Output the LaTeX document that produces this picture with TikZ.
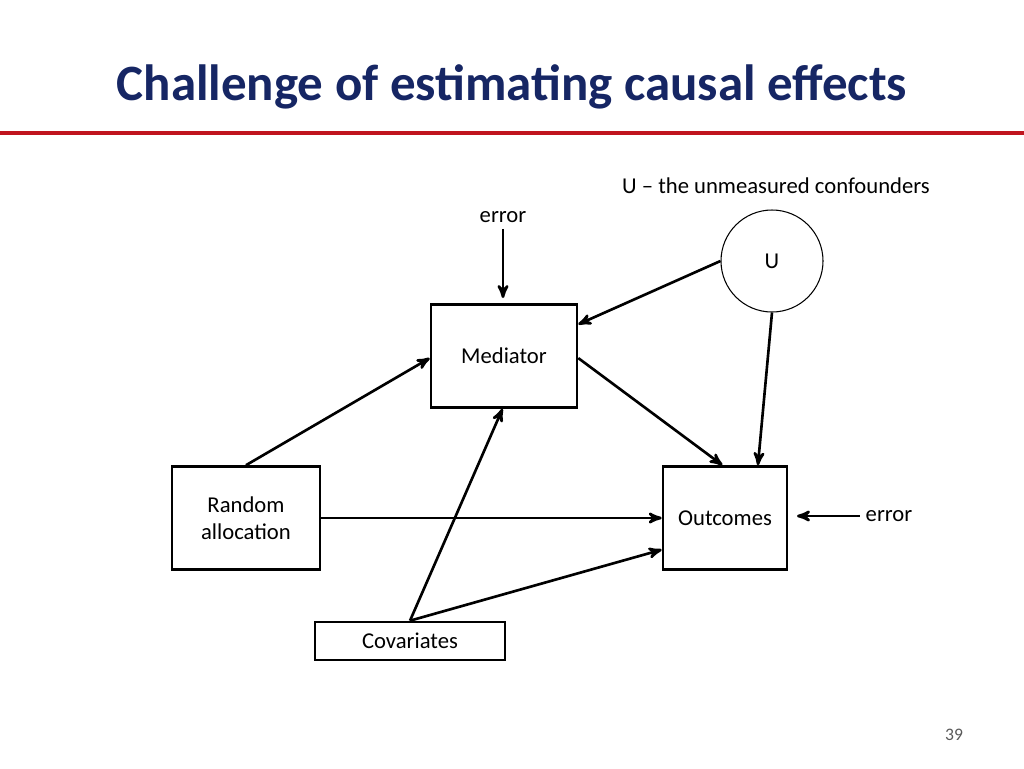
\documentclass[tikz,border=0pt]{standalone}
\usepackage{fontspec}
\setmainfont{Carlito}
\usetikzlibrary{calc}
\usetikzlibrary{arrows}
\definecolor{titleblue}{RGB}{22,38,100}
\definecolor{rulered}{RGB}{192,20,30}
\tikzset{box/.style={draw, line width=1.5pt, align=center, font=\fontsize{12.9}{15.5}\selectfont},
  arr/.style={line width=1.5pt, ->, >=stealth'},
  lbl/.style={font=\fontsize{12.9}{15.5}\selectfont}}
\begin{document}
\begin{tikzpicture}[x=0.02cm, y=-0.02cm]
\useasboundingbox (0,0) rectangle (1024,768);
\node[font=\bfseries\fontsize{29}{34}\selectfont, text=titleblue] (title) at (512,87) {Challenge of estimating causal effects};
\draw[rulered, line width=1.8pt] (0,133) -- (1024,133);
\node[box, minimum width=146*0.02cm, minimum height=103*0.02cm] (med) at (504,356) {Mediator};
\node[box, minimum width=148*0.02cm, minimum height=103*0.02cm] (rand) at (246,518) {Random\\allocation};
\node[box, minimum width=124*0.02cm, minimum height=103*0.02cm] (out) at (725,518) {Outcomes};
\node[box, minimum width=190*0.02cm, minimum height=38*0.02cm] (cov) at (410,641) {Covariates};
\node[draw, circle, line width=0.6pt, minimum size=102*0.02cm, lbl] (U) at (772,261) {U};
\node[lbl] (Ulbl) at (776,186) {U -- the unmeasured confounders};
\node[lbl] (err1) at (503,217) {error};
\node[lbl] (err2) at (889,516) {error};
\node[font=\fontsize{10}{12}\selectfont, text=gray!70!black] (page) at (954,735) {39};

\coordinate (e1) at (503,298);
\coordinate (e2) at (797,516);
\draw[arr] (err1.south) -- (e1);
\draw[arr] (err2.west) -- (e2);
\draw[arr] (U.west) -- ($(med.north east)!0.2!(med.south east)$);
\draw[arr] (U.south) -- ($(out.north west)!0.76!(out.north east)$);
\draw[arr] ($(med.north east)!0.52!(med.south east)$) -- ($(out.north west)!0.48!(out.north east)$);
\draw[arr] (rand.north) -- ($(med.north west)!0.52!(med.south west)$);
\draw[arr] (rand.east) -- (out.west);
\draw[arr] (cov.north) -- ($(med.south west)!0.49!(med.south east)$);
\draw[arr] (cov.north) -- ($(out.north west)!0.8!(out.south west)$);
\end{tikzpicture}
\end{document}
